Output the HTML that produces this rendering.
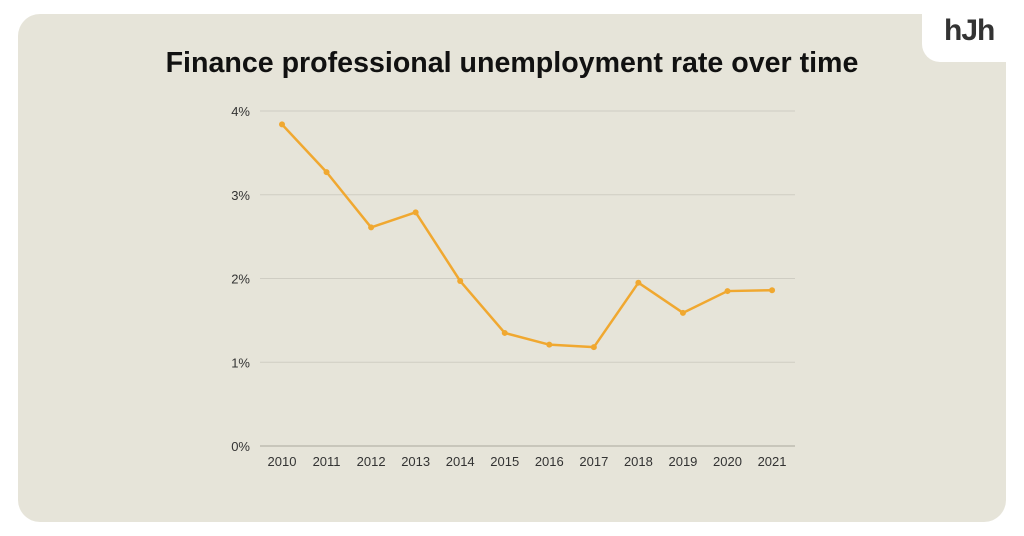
<!DOCTYPE html>
<html><head><meta charset="utf-8"><style>
html,body{margin:0;padding:0;background:#fff;}
body{width:1024px;height:536px;position:relative;overflow:hidden;font-family:"Liberation Sans",sans-serif;}
.card{position:absolute;left:18px;top:14px;width:988px;height:508px;background:#e6e4d9;border-radius:22px;}
.logo-box{position:absolute;left:922px;top:0;width:102px;height:62px;background:#fff;border-bottom-left-radius:18px;}
.logo{position:absolute;left:944px;top:14px;font-size:30px;font-weight:bold;color:#333;letter-spacing:-1px;}
h1{position:absolute;left:0;width:1024px;top:47px;margin:0;text-align:center;font-size:28.6px;font-weight:bold;color:#111;}
svg{position:absolute;left:0;top:0;}
</style></head><body>
<div class="card"></div>
<div class="logo-box"></div>
<div class="logo">hJh</div>
<h1>Finance professional unemployment rate over time</h1>
<svg id="chart" width="1024" height="536"></svg>
<script>
const years = ["2010","2011","2012","2013","2014","2015","2016","2017","2018","2019","2020","2021"];
const rates = [3.84,3.27,2.61,2.79,1.97,1.35,1.21,1.18,1.95,1.59,1.85,1.86];
const yTicks = [0,1,2,3,4];
const yTickLabels = ["0%","1%","2%","3%","4%"];

const NS="http://www.w3.org/2000/svg";
const svg=document.getElementById('chart');
const y0=446, pxPer=83.75, x0=282, xStep=44.55;
const yS=v=>y0-v*pxPer;
const xS=i=>x0+i*xStep;
function mk(t,a){const e=document.createElementNS(NS,t);for(const k in a)e.setAttribute(k,a[k]);svg.appendChild(e);return e;}
yTicks.forEach((v,i)=>{
  const g=mk('line',{x1:260,x2:795,y1:yS(v),y2:yS(v),stroke:i===0?'#a9a79d':'#cfcdc3','stroke-width':1});
  
  
  const t=mk('text',{x:250,y:yS(v)+5,'text-anchor':'end','font-size':13,fill:'#333','font-family':'Liberation Sans, sans-serif'});
  t.textContent=yTickLabels[i];
  
  
});
years.forEach((y,i)=>{
  const t=mk('text',{x:xS(i),y:466,'text-anchor':'middle','font-size':13,fill:'#333','font-family':'Liberation Sans, sans-serif'});
  t.textContent=y;
  
  
});
const pts=rates.map((v,i)=>xS(i)+','+yS(v)).join(' ');
const pl=mk('polyline',{points:pts,fill:'none',stroke:'#f0a830','stroke-width':2.5,'stroke-linejoin':'round'});


rates.forEach((v,i)=>{
  const c=mk('circle',{cx:xS(i),cy:yS(v),r:3,fill:'#f0a830'});
  
  
});
</script>
</body></html>
